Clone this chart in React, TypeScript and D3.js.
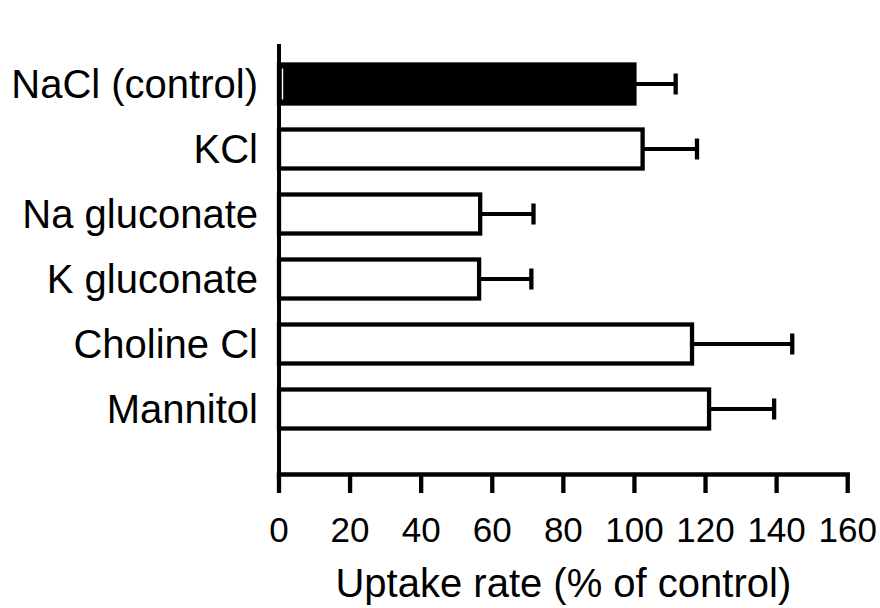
import React from "react";
import * as d3 from "d3";

// Uptake rate by bath solution, expressed as % of the NaCl control (mean ± SEM)
const categories = [
  "NaCl (control)",
  "KCl",
  "Na gluconate",
  "K gluconate",
  "Choline Cl",
  "Mannitol",
];
const means = [100, 102.3, 56.6, 56.3, 116.2, 121.0];
const errors = [11.6, 15.3, 15.0, 14.7, 28.2, 18.3];
const controlFlags = [true, false, false, false, false, false];
const xTicks = [0, 20, 40, 60, 80, 100, 120, 140, 160];
const xTitle = "Uptake rate (% of control)";

const W = 880;
const H = 608;
const FONT = "'Liberation Sans', Arial, Helvetica, sans-serif";

export default function App() {
  const x = d3.scaleLinear().domain([0, 160]).range([279, 847.7]);
  const y = d3
    .scaleBand<string>()
    .domain(categories)
    .range([51.5, 441.5])
    .paddingInner(0.4)
    .paddingOuter(0.2);

  const axisY = 474.5;
  const axisTop = 44;
  const sw = 4.3;
  const capHalf = 10.5;

  return (
    <svg
      width={W}
      height={H}
      viewBox={`0 0 ${W} ${H}`}
      style={{ position: "absolute", left: 0, top: 0, background: "#fff" }}
    >
      <rect x={0} y={0} width={W} height={H} fill="#fff" />

      {/* bars with error whiskers */}
      {categories.map((c, i) => {
        const yb = y(c)!;
        const bw = y.bandwidth();
        const cy = yb + bw / 2;
        const x0 = x(0);
        const x1 = x(means[i]);
        const xe = x(means[i] + errors[i]);
        return (
          <g key={c}>
            <line x1={x1} x2={xe} y1={cy} y2={cy} stroke="#000" strokeWidth={4} />
            <line
              x1={xe}
              x2={xe}
              y1={cy - capHalf}
              y2={cy + capHalf}
              stroke="#000"
              strokeWidth={4.3}
            />
            <rect
              x={x0}
              y={yb}
              width={x1 - x0}
              height={bw}
              fill={controlFlags[i] ? "#000" : "#fff"}
              stroke="#000"
              strokeWidth={sw}
            />
            {controlFlags[i] && (
              <line
                x1={x0 + 3.5}
                x2={x0 + 3.5}
                y1={yb + 4}
                y2={yb + bw - 4}
                stroke="#fff"
                strokeWidth={1.4}
              />
            )}
            <text
              x={258}
              y={cy + 0.358 * 40}
              textAnchor="end"
              fontFamily={FONT}
              fontSize={40}
              fill="#000"
            >
              {c}
            </text>
          </g>
        );
      })}

      {/* y axis line */}
      <line
        x1={x(0)}
        x2={x(0)}
        y1={axisTop}
        y2={axisY + 2}
        stroke="#000"
        strokeWidth={4}
      />

      {/* x axis */}
      <line
        x1={x(0) - 2.2}
        x2={x(160) + 2.2}
        y1={axisY}
        y2={axisY}
        stroke="#000"
        strokeWidth={4.3}
      />
      {xTicks.map((t) => (
        <g key={t}>
          <line
            x1={x(t)}
            x2={x(t)}
            y1={axisY}
            y2={493}
            stroke="#000"
            strokeWidth={4.3}
          />
          <text
            x={x(t)}
            y={541.7}
            textAnchor="middle"
            fontFamily={FONT}
            fontSize={35}
            fill="#000"
          >
            {t}
          </text>
        </g>
      ))}

      <text
        x={(x(0) + x(160)) / 2}
        y={597}
        textAnchor="middle"
        fontFamily={FONT}
        fontSize={40}
        fill="#000"
      >
        {xTitle}
      </text>
    </svg>
  );
}
